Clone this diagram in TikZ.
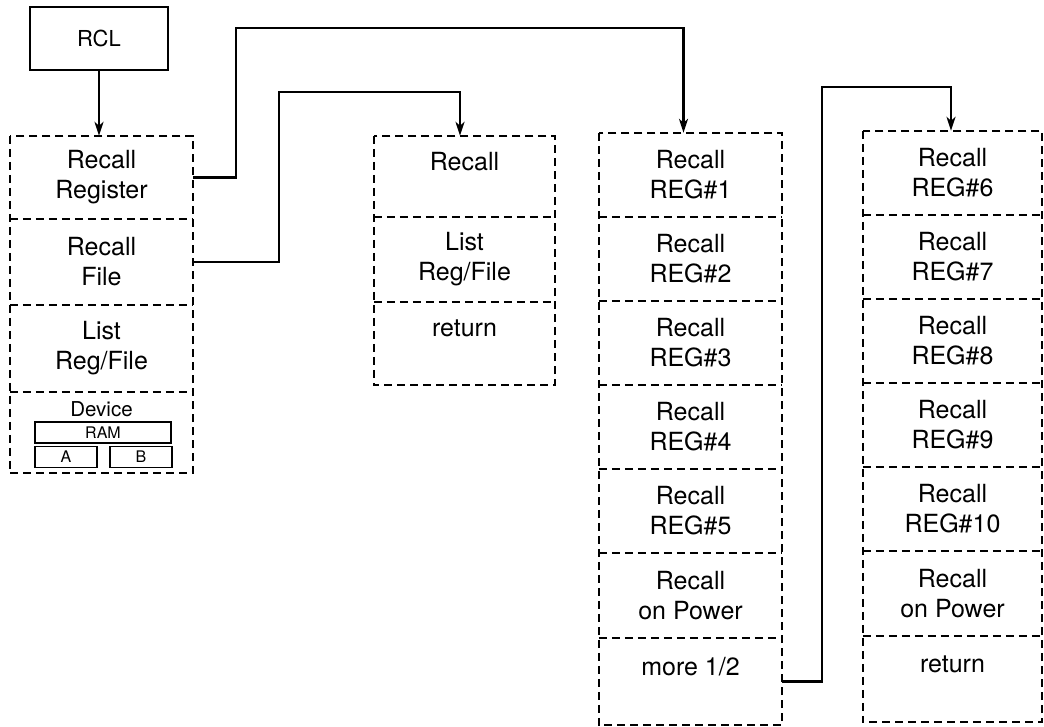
\documentclass[tikz,border=0pt]{standalone}
\usepackage{fontspec}
\setmainfont{TeX Gyre Heros}
\usetikzlibrary{arrows.meta}
\tikzset{
  cell/.style={inner sep=0pt, align=center, font=\fontsize{25}{30}\selectfont},
  colframe/.style={draw, line width=1.6pt, dash pattern=on 8pt off 5pt},
  divider/.style={draw, line width=1.6pt, dash pattern=on 8pt off 5pt},
  conn/.style={draw, line width=2.2pt, -{Stealth[length=14pt,width=9pt,inset=4pt]}},
  smallbox/.style={draw, line width=1.8pt, inner sep=0pt, font=\fontsize{16}{17}\selectfont},
  keybox/.style={draw, line width=2.2pt, inner sep=0pt, font=\fontsize{22}{24}\selectfont}
}
\begin{document}
\begin{tikzpicture}[x=1pt,y=-1pt]
\useasboundingbox (0,0) rectangle (1044,727);

% RCL key
\node[keybox, minimum width=138pt, minimum height=63pt] (rcl) at (99,38.5) {RCL};

% Column 1
\node[cell, minimum width=183pt, minimum height=83pt] (c1a) at (101.5,177.5) {Recall\\Register};
\node[cell, minimum width=183pt, minimum height=86pt] (c1b) at (101.5,262) {Recall\\File};
\node[cell, minimum width=183pt, minimum height=87pt] (c1c) at (101.5,348.5) {List\\Reg/File};
\node[cell, minimum width=183pt, minimum height=81pt] (c1d) at (101.5,432.5) {};
\node[inner sep=0pt, font=\fontsize{20.5}{22}\selectfont] (dev) at (101.5,409.5) {Device};
\node[smallbox, minimum width=136pt, minimum height=21pt] (ram) at (103,432.5) {RAM};
\node[smallbox, minimum width=62pt, minimum height=21pt] (ba) at (66,457) {A};
\node[smallbox, minimum width=62pt, minimum height=21pt] (bb) at (141,457) {B};
\path[colframe] (c1a.north west) rectangle (c1d.south east);
\foreach \c in {c1a,c1b,c1c} \path[divider] (\c.south west) -- (\c.south east);

% Column 2
\node[cell, minimum width=181pt, minimum height=81pt] (c2a) at (464.5,176.5) {Recall\\\mbox{}};
\node[cell, minimum width=181pt, minimum height=85pt] (c2b) at (464.5,259.5) {List\\Reg/File};
\node[cell, minimum width=181pt, minimum height=83pt] (c2c) at (464.5,343.5) {return\\\mbox{}};
\path[colframe] (c2a.north west) rectangle (c2c.south east);
\foreach \c in {c2a,c2b} \path[divider] (\c.south west) -- (\c.south east);

% Column 3
\node[cell, minimum width=183pt, minimum height=84pt] (c3a) at (690.5,175) {Recall\\REG\#1};
\node[cell, minimum width=183pt, minimum height=84pt] (c3b) at (690.5,259) {Recall\\REG\#2};
\node[cell, minimum width=183pt, minimum height=84pt] (c3c) at (690.5,343) {Recall\\REG\#3};
\node[cell, minimum width=183pt, minimum height=84pt] (c3d) at (690.5,427) {Recall\\REG\#4};
\node[cell, minimum width=183pt, minimum height=84pt] (c3e) at (690.5,511) {Recall\\REG\#5};
\node[cell, minimum width=183pt, minimum height=85pt] (c3f) at (690.5,595.5) {Recall\\on Power};
\node[cell, minimum width=183pt, minimum height=87pt] (c3g) at (690.5,681.5) {more 1/2\\\mbox{}};
\path[colframe] (c3a.north west) rectangle (c3g.south east);
\foreach \c in {c3a,c3b,c3c,c3d,c3e,c3f} \path[divider] (\c.south west) -- (\c.south east);

% Column 4
\node[cell, minimum width=179pt, minimum height=84pt] (c4a) at (952.5,173) {Recall\\REG\#6};
\node[cell, minimum width=179pt, minimum height=84pt] (c4b) at (952.5,257) {Recall\\REG\#7};
\node[cell, minimum width=179pt, minimum height=84pt] (c4c) at (952.5,341) {Recall\\REG\#8};
\node[cell, minimum width=179pt, minimum height=84pt] (c4d) at (952.5,425) {Recall\\REG\#9};
\node[cell, minimum width=179pt, minimum height=84pt] (c4e) at (952.5,509) {Recall\\REG\#10};
\node[cell, minimum width=179pt, minimum height=85pt] (c4f) at (952.5,593.5) {Recall\\on Power};
\node[cell, minimum width=179pt, minimum height=86pt] (c4g) at (952.5,679) {return\\\mbox{}};
\path[colframe] (c4a.north west) rectangle (c4g.south east);
\foreach \c in {c4a,c4b,c4c,c4d,c4e,c4f} \path[divider] (\c.south west) -- (\c.south east);

% Connectors
\coordinate (j1) at (236,28);
\coordinate (j2) at (279,92);
\coordinate (j3) at (822,87);
\path[conn] (rcl.south) -- (rcl.south |- c1a.north);
\path[conn] (c1a.east) -| (j1) -| ([xshift=-7pt]c3a.north);
\path[conn] (c1b.east) -| (j2) -| ([xshift=-4.5pt]c2a.north);
\path[conn] (c3g.east) -| (j3) -| ([xshift=-1.5pt]c4a.north);
\end{tikzpicture}
\end{document}
